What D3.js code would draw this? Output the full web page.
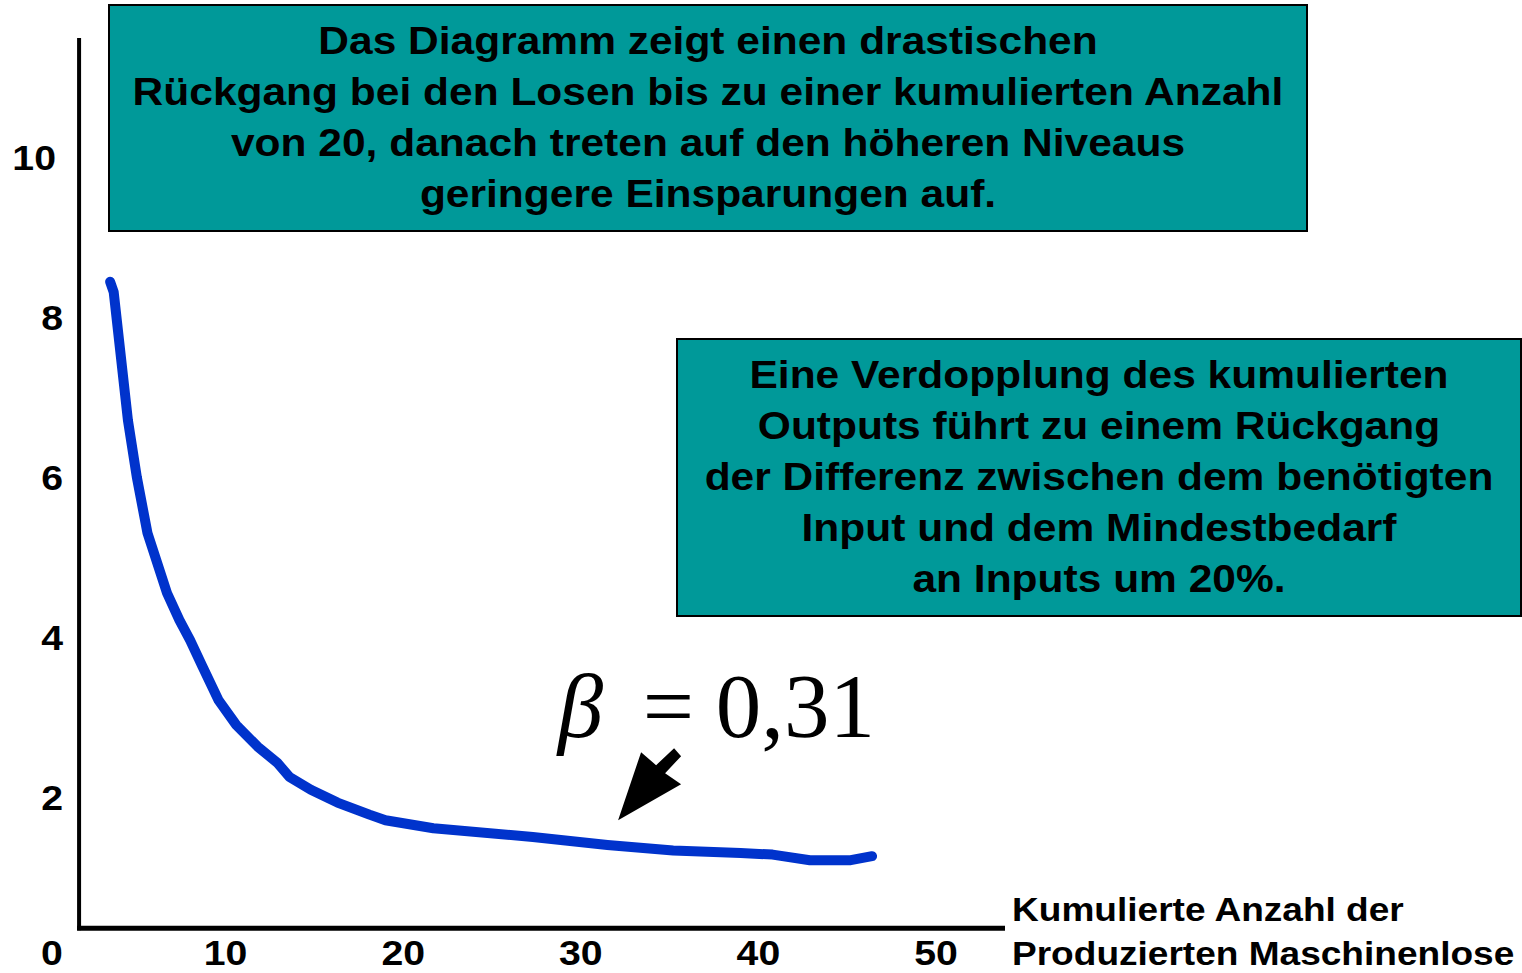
<!DOCTYPE html>
<html>
<head>
<meta charset="utf-8">
<script src="https://cdn.jsdelivr.net/npm/d3@7"></script>
<style>
  body { margin: 0; background: #fff; }
  text { font-family: "Liberation Sans", Arial, sans-serif; font-weight: bold; fill: #000; }
  .beta { font-family: "Liberation Serif", "Times New Roman", serif; font-weight: normal; }
</style>
</head>
<body>
<div id="chart"></div>
<script>
// curve data
var lotsX = [3.5, 3.7, 4.5, 5.0, 5.6, 6.7, 7.4, 8.0, 8.7, 9.6, 10.6, 11.8, 12.9, 13.6, 14.8, 16.3, 18.1, 19.0, 21.7, 27.3, 31.5, 35.2, 39.0, 40.8, 42.9, 45.2, 46.4];
var costY = [8.44, 8.31, 6.71, 6.0, 5.3, 4.55, 4.21, 3.96, 3.63, 3.21, 2.9, 2.63, 2.43, 2.25, 2.09, 1.93, 1.78, 1.71, 1.61, 1.5, 1.4, 1.33, 1.3, 1.28, 1.21, 1.21, 1.26];

var xTicks = [0, 10, 20, 30, 40, 50];
var yTicks = [2, 4, 6, 8, 10];

var xAxisTitle = ["Kumulierte Anzahl der", "Produzierten Maschinenlose"];
var note1 = ["Das Diagramm zeigt einen drastischen",
             "Rückgang bei den Losen bis zu einer kumulierten Anzahl",
             "von 20, danach treten auf den höheren Niveaus",
             "geringere Einsparungen auf."];
var note2 = ["Eine Verdopplung des kumulierten",
             "Outputs führt zu einem Rückgang",
             "der Differenz zwischen dem benötigten",
             "Input und dem Mindestbedarf",
             "an Inputs um 20%."];

var svgWidth = 1522;
var svgHeight = 973;
var stretch = 1.09; // the original lettering is a bit wider than Arial

var svg = d3.select("#chart").append("svg")
            .attr("width", svgWidth)
            .attr("height", svgHeight);

// Scales
var xScale = d3.scaleLinear().domain([0, 50]).range([48, 936]);
var yScale = d3.scaleLinear().domain([0, 10]).range([957, 157]);

// Axis lines (the origin sits a bit off the 0 labels)
var axisX0 = 1.75, axisY0 = 0.36;
svg.append("line")
    .attr("x1", xScale(axisX0)).attr("x2", xScale(axisX0))
    .attr("y1", 38).attr("y2", yScale(axisY0) + 2)
    .attr("stroke", "#000").attr("stroke-width", 4);
svg.append("line")
    .attr("x1", xScale(axisX0) - 2).attr("x2", 1005)
    .attr("y1", yScale(axisY0)).attr("y2", yScale(axisY0))
    .attr("stroke", "#000").attr("stroke-width", 5);

// Tick labels
svg.append("g").selectAll("text")
    .data(xTicks)
    .enter()
    .append("text")
    .attr("transform", d => `translate(${xScale(d) + (d === 0 ? 4 : 0)}, 965) scale(${stretch}, 1)`)
    .attr("text-anchor", "middle")
    .attr("font-size", 36)
    .text(d => d);

svg.append("g").selectAll("text")
    .data(yTicks)
    .enter()
    .append("text")
    .attr("transform", d => `translate(${d === 10 ? 56 : 63}, ${yScale(d) + 13}) scale(${stretch}, 1)`)
    .attr("text-anchor", "end")
    .attr("font-size", 36)
    .text(d => d);

// x axis title
svg.append("g").selectAll("text")
    .data(xAxisTitle)
    .enter()
    .append("text")
    .attr("transform", (d, i) => `translate(1012, ${921 + i * 44}) scale(${stretch}, 1)`)
    .attr("font-size", 34)
    .text(d => d);

// Curve
var points = lotsX.map((x, i) => [x, costY[i]]);
var line = d3.line()
    .x(d => xScale(d[0]))
    .y(d => yScale(d[1]));

svg.append("path")
    .datum(points)
    .attr("d", line)
    .attr("fill", "none")
    .attr("stroke", "#0033cc")
    .attr("stroke-width", 10)
    .attr("stroke-linecap", "round")
    .attr("stroke-linejoin", "round");

// Text boxes
function noteBox(lines, x, y, w, h, firstBaseline) {
    var g = svg.append("g");
    g.append("rect")
        .attr("x", x).attr("y", y)
        .attr("width", w).attr("height", h)
        .attr("fill", "#009999")
        .attr("stroke", "#000")
        .attr("stroke-width", 2);
    g.selectAll("text")
        .data(lines)
        .enter()
        .append("text")
        .attr("transform", (d, i) => `translate(${x + w / 2}, ${firstBaseline + i * 51}) scale(${stretch}, 1)`)
        .attr("text-anchor", "middle")
        .attr("font-size", 39)
        .text(d => d);
}
noteBox(note1, 109, 5, 1198, 226, 54);
noteBox(note2, 677, 339, 844, 277, 388);

// beta annotation
var betaAt = [28.7, 2.75];
var bx = xScale(betaAt[0]), by = yScale(betaAt[1]);
svg.append("text").attr("class", "beta")
    .attr("x", bx).attr("y", by)
    .attr("font-size", 91)
    .attr("font-style", "italic")
    .text("β");
svg.append("text").attr("class", "beta")
    .attr("x", bx + 85).attr("y", by)
    .attr("font-size", 91)
    .text("=");
svg.append("text").attr("class", "beta")
    .attr("x", bx + 158).attr("y", by)
    .attr("font-size", 91)
    .text("0,31");

// arrow pointing at the curve
var arrowTip = [32.1, 1.71];
var tx = xScale(arrowTip[0]), ty = yScale(arrowTip[1]);
var arrow = [[0, 0], [23, -68], [38, -55], [56, -72], [63, -64], [47, -47], [63, -36]];
svg.append("path")
    .attr("d", "M" + arrow.map(p => (tx + p[0]) + "," + (ty + p[1])).join("L") + "Z")
    .attr("fill", "#000");
</script>
</body>
</html>
